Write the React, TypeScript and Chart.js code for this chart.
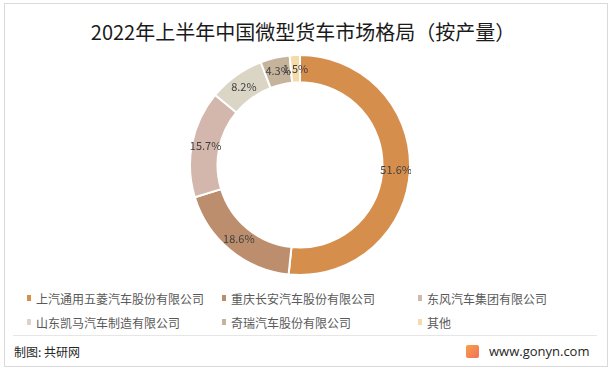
import React, { useEffect, useRef } from "react";
import { Chart, registerables } from "chart.js";

Chart.register(...registerables);

const title = "2022年上半年中国微型货车市场格局（按产量）";
const companies = [
  "上汽通用五菱汽车股份有限公司",
  "重庆长安汽车股份有限公司",
  "东风汽车集团有限公司",
  "山东凯马汽车制造有限公司",
  "奇瑞汽车股份有限公司",
  "其他",
];
const shares = [51.6, 18.6, 15.7, 8.2, 4.3, 1.5];
const colors = ["#D68E4D", "#BC8E6E", "#D4B7AC", "#DBD5C6", "#C6B39B", "#F6DBAA"];
const legendCols = [27, 222, 418];
const legendRows = [298, 322];
const FONT = '"Noto Sans CJK SC", "Noto Sans", sans-serif';

const labelPlugin = {
  id: "pctLabels",
  afterDatasetsDraw(chart: any) {
    const ctx = chart.ctx;
    const meta = chart.getDatasetMeta(0);
    ctx.save();
    ctx.font = `11px ${FONT}`;
    ctx.fillStyle = "#404040";
    ctx.textAlign = "center";
    ctx.textBaseline = "middle";
    meta.data.forEach((arc: any, i: number) => {
      const p = arc.tooltipPosition();
      ctx.fillText(shares[i].toFixed(1) + "%", p.x, p.y);
    });
    ctx.restore();
  },
};

export default function App() {
  const ref = useRef<HTMLCanvasElement>(null);
  useEffect(() => {
    const chart = new Chart(ref.current!, {
      type: "doughnut",
      data: {
        labels: companies,
        datasets: [
          {
            data: shares,
            backgroundColor: colors,
            borderColor: "#ffffff",
            borderWidth: 2,
          },
        ],
      },
      options: {
        animation: false,
        responsive: false,
        cutout: "75%",
        plugins: { legend: { display: false }, tooltip: { enabled: false } },
        layout: { padding: 0 },
      },
      plugins: [labelPlugin],
    });
    return () => chart.destroy();
  }, []);

  return (
    <div
      style={{
        position: "fixed",
        left: 0,
        top: 0,
        width: 614,
        height: 371,
        background: "#fff",
        fontFamily: FONT,
      }}
    >
      <div
        style={{
          position: "absolute",
          left: 4,
          top: 3,
          width: 602,
          height: 362,
          border: "1px solid #d9d9d9",
        }}
      />
      <div
        style={{
          position: "absolute",
          left: 0,
          width: 606,
          top: 19,
          textAlign: "center",
          fontSize: 20,
          color: "#1a1a1a",
          lineHeight: "26px",
        }}
      >
        {title}
      </div>
      <canvas
        ref={ref}
        width={222}
        height={222}
        style={{ position: "absolute", left: 189, top: 54, width: 222, height: 222 }}
      />
      {companies.map((c, i) => {
        const x = legendCols[i % 3];
        const y = legendRows[Math.floor(i / 3)];
        return (
          <div
            key={c}
            style={{
              position: "absolute",
              left: x,
              top: y - 8,
              height: 16,
              display: "flex",
              alignItems: "center",
              fontSize: 12,
              color: "#595959",
              whiteSpace: "nowrap",
            }}
          >
            <span
              style={{
                display: "inline-block",
                width: 4,
                height: 6,
                background: colors[i],
                marginRight: 5,
              }}
            />
            {c}
          </div>
        );
      })}
      <div
        style={{
          position: "absolute",
          left: 13,
          top: 335,
          width: 584,
          height: 1,
          background: "#e6e6e6",
        }}
      />
      <div
        style={{
          position: "absolute",
          left: 14,
          top: 343,
          fontSize: 12,
          color: "#262626",
          lineHeight: "18px",
        }}
      >
        制图: 共研网
      </div>
      <div
        style={{
          position: "absolute",
          left: 466,
          top: 345,
          width: 13,
          height: 13,
          borderRadius: 2,
          background: "linear-gradient(135deg, #f7a04b, #f36f5a)",
        }}
      />
      <div
        style={{
          position: "absolute",
          left: 489,
          top: 342,
          fontSize: 13,
          color: "#262626",
          lineHeight: "18px",
          fontFamily: '"Open Sans", "Noto Sans", sans-serif',
        }}
      >
        www.gonyn.com
      </div>
    </div>
  );
}
